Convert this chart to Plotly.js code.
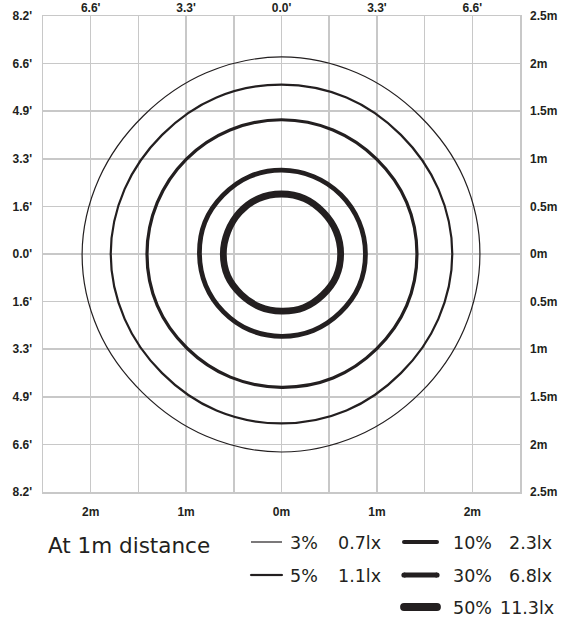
<!DOCTYPE html>
<html>
<head>
<meta charset="utf-8">
<script src="https://cdn.plot.ly/plotly-3.0.1.min.js"></script>
<style>
html,body{margin:0;padding:0;background:#fff;}
#chart{width:568px;height:619px;}
</style>
</head>
<body>
<div id="chart"></div>
<script>
// ---------- data ----------
const gridVals = [-2.5, -2, -1.5, -1, -0.5, 0, 0.5, 1, 1.5, 2, 2.5];
const bottomLabels = ['', '2m', '', '1m', '', '0m', '', '1m', '', '2m', ''];
const leftLabels = ["8.2'", "6.6'", "4.9'", "3.3'", "1.6'", "0.0'", "1.6'", "3.3'", "4.9'", "6.6'", "8.2'"];
const rightLabels = ['2.5m', '2m', '1.5m', '1m', '0.5m', '0m', '0.5m', '1m', '1.5m', '2m', '2.5m'];
const topVals = [-2, -1, 0, 1, 2];
const topLabels = ["6.6'", "3.3'", "0.0'", "3.3'", "6.6'"];

// contour radii (m) read at these angles (deg, counter-clockwise from +x)
const anglesDeg = [0, 22.5, 45, 67.5, 90, 112.5, 135, 157.5, 180, 202.5, 225, 247.5, 270, 292.5, 315, 337.5];
const r3pct  = [2.08, 2.07, 2.05, 2.06, 2.07, 2.06, 2.05, 2.07, 2.09, 2.08, 2.06, 2.07, 2.08, 2.07, 2.06, 2.07];
const r5pct  = [1.79, 1.78, 1.77, 1.78, 1.78, 1.78, 1.77, 1.78, 1.79, 1.78, 1.77, 1.78, 1.78, 1.78, 1.77, 1.78];
const r10pct = [1.42, 1.42, 1.41, 1.41, 1.41, 1.41, 1.41, 1.41, 1.41, 1.41, 1.40, 1.40, 1.40, 1.41, 1.41, 1.42];
const r30pct = [0.88, 0.88, 0.88, 0.88, 0.88, 0.88, 0.87, 0.87, 0.86, 0.86, 0.86, 0.865, 0.865, 0.87, 0.87, 0.88];
const r50pct = [0.62, 0.62, 0.62, 0.63, 0.63, 0.63, 0.62, 0.61, 0.61, 0.61, 0.60, 0.60, 0.60, 0.61, 0.61, 0.62];

const legendPct = ['3%', '5%', '10%', '30%', '50%'];
const legendLux = ['0.7lx', '1.1lx', '2.3lx', '6.8lx', '11.3lx'];
const legendTitle = 'At 1m distance';

// ---------- styles ----------
const ink = '#231f20';
const gridColor = '#c8c8c8';
const contourWidths = [1.2, 2.2, 3.2, 4.8, 6.8];
const legendWidths = [1.2, 2.2, 4, 5.2, 7.8];
// legend layout (pixel positions): [lineX0, lineX1, textX, luxRightX, rowY]
const legendPos = [
  [251, 282, 288, 383, 542],
  [251, 282, 288, 383, 575],
  [404, 437, 451, 554, 542],
  [404, 437, 451, 554, 575],
  [404, 437, 451, 556, 607]
];

const PL = 43, PR = 520, PT = 16, PB = 492;
const W = 568, H = 619;
function pxX(X) { return (X - PL) / (PR - PL); }
function pxY(Y) { return (PB - Y) / (PB - PT); }

function closedXY(r) {
  const xs = [], ys = [];
  for (let i = 0; i <= anglesDeg.length; i++) {
    const k = i % anglesDeg.length;
    const a = anglesDeg[k] * Math.PI / 180;
    xs.push(r[k] * Math.cos(a));
    ys.push(r[k] * Math.sin(a));
  }
  return {x: xs, y: ys};
}

const series = [r3pct, r5pct, r10pct, r30pct, r50pct];
const traces = series.map((r, i) => {
  const p = closedXY(r);
  return {
    type: 'scatter', mode: 'lines', x: p.x, y: p.y,
    line: {color: ink, width: contourWidths[i], shape: 'spline', smoothing: 1},
    hoverinfo: 'skip', showlegend: false, xaxis: 'x', yaxis: 'y'
  };
});
// invisible trace to activate secondary axes
traces.push({type: 'scatter', mode: 'markers', x: [0], y: [0], xaxis: 'x2', yaxis: 'y2',
  marker: {opacity: 0}, hoverinfo: 'skip', showlegend: false});

const shapes = [];
const annotations = [];
legendPos.forEach((p, i) => {
  const [x0, x1, tx, lx, y] = p;
  const w = legendWidths[i];
  shapes.push({type: 'line', xref: 'paper', yref: 'paper',
    x0: pxX(x0), x1: pxX(x1), y0: pxY(y), y1: pxY(y),
    line: {color: ink, width: w}});
  if (w >= 2) {
    [x0, x1].forEach(ex => {
      shapes.push({type: 'circle', xref: 'paper', yref: 'paper',
        xsizemode: 'pixel', ysizemode: 'pixel',
        xanchor: pxX(ex), yanchor: pxY(y),
        x0: -w / 2, x1: w / 2, y0: -w / 2, y1: w / 2,
        fillcolor: ink, line: {width: 0}});
    });
  }
  annotations.push({xref: 'paper', yref: 'paper', x: pxX(tx), y: pxY(y + 1),
    xanchor: 'left', yanchor: 'middle', text: legendPct[i], showarrow: false,
    font: {family: 'DejaVu Sans', size: 17.5, color: ink}});
  annotations.push({xref: 'paper', yref: 'paper', x: pxX(lx), y: pxY(y + 1),
    xanchor: 'right', yanchor: 'middle', text: legendLux[i], showarrow: false,
    font: {family: 'DejaVu Sans', size: 17.5, color: ink}});
});
annotations.push({xref: 'paper', yref: 'paper', x: pxX(46), y: pxY(545),
  xanchor: 'left', yanchor: 'middle', text: legendTitle, showarrow: false,
  font: {family: 'DejaVu Sans', size: 21.5, color: ink}});

const tickFont = {family: 'Liberation Sans, Arial, sans-serif', size: 12, color: ink, weight: 'bold'};

const layout = {
  width: W, height: H,
  margin: {l: PL, r: W - PR, t: PT, b: H - PB, pad: 0},
  paper_bgcolor: '#fff', plot_bgcolor: '#fff',
  showlegend: false,
  xaxis: {
    range: [-2.5, 2.5], tickvals: gridVals, ticktext: bottomLabels,
    showgrid: true, gridcolor: gridColor, gridwidth: 1.5,
    zeroline: false, showline: true, mirror: true, linecolor: gridColor, linewidth: 1.5,
    ticks: '', tickfont: tickFont, ticklabelstandoff: 8, fixedrange: true
  },
  yaxis: {
    range: [-2.5, 2.5], tickvals: gridVals, ticktext: leftLabels,
    showgrid: true, gridcolor: gridColor, gridwidth: 1.5,
    zeroline: false, showline: true, mirror: true, linecolor: gridColor, linewidth: 1.5,
    ticks: '', tickfont: tickFont, ticklabelstandoff: 7, fixedrange: true
  },
  xaxis2: {
    overlaying: 'x', side: 'top', range: [-2.5, 2.5], tickvals: topVals, ticktext: topLabels,
    showgrid: false, zeroline: false, showline: false, ticks: '', tickfont: tickFont,
    ticklabelstandoff: 1, fixedrange: true, anchor: 'y2'
  },
  yaxis2: {
    overlaying: 'y', side: 'right', range: [-2.5, 2.5], tickvals: gridVals, ticktext: rightLabels,
    showgrid: false, zeroline: false, showline: false, ticks: '', tickfont: tickFont,
    ticklabelstandoff: 9, fixedrange: true, anchor: 'x2'
  },
  shapes: shapes,
  annotations: annotations
};

Plotly.newPlot('chart', traces, layout, {displayModeBar: false, staticPlot: true});
</script>
</body>
</html>
